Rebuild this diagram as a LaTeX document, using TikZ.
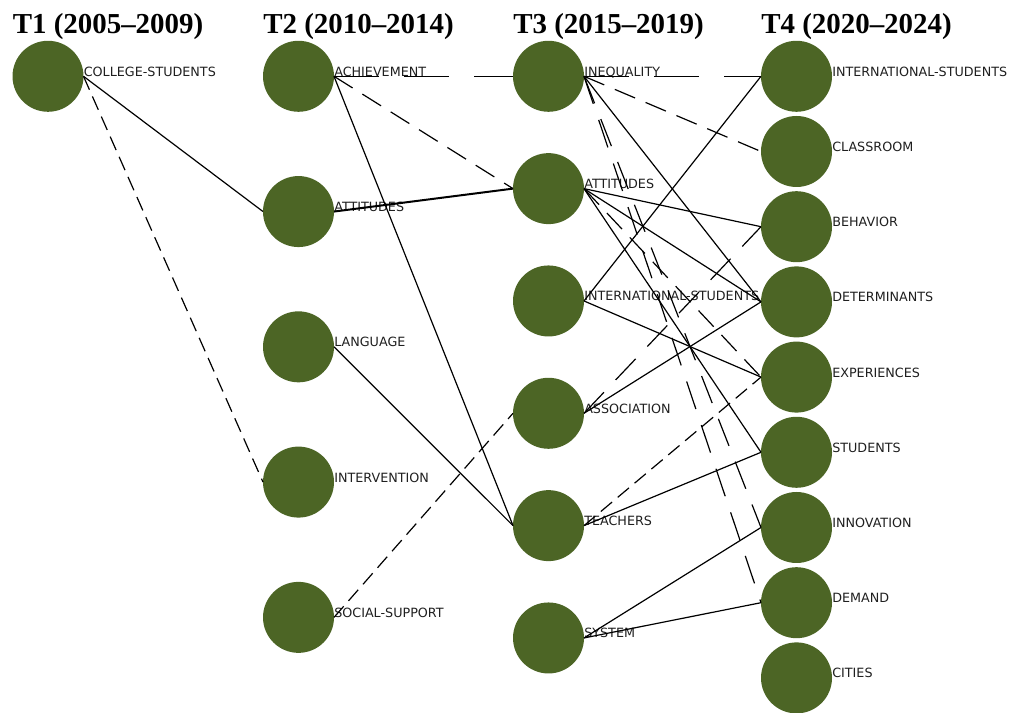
\documentclass[tikz,border=0pt]{standalone}
\usepackage{fontspec}
\setmainfont{Liberation Serif}
\newfontfamily\termfont{DejaVu Sans}
\usepackage{tikz}
\usetikzlibrary{positioning}

\definecolor{termgreen}{RGB}{76,101,37}

\tikzset{
    term/.style={circle, fill=termgreen, minimum size=53.25pt, inner sep=0pt, outer sep=0pt},
    termtext/.style={anchor=base west, inner sep=0pt, text=black!88,
        font=\termfont\fontsize{9.55pt}{11pt}\selectfont},
    period/.style={anchor=base west, inner sep=0pt,
        font=\bfseries\fontsize{21.7pt}{26pt}\selectfont},
    link/.style={line width=0.9pt},
    linkthick/.style={line width=1.5pt},
    dshort/.style={line width=0.9pt, dash pattern=on 11pt off 5.5pt},
    dmid/.style={line width=0.9pt, dash pattern=on 16.5pt off 8.6pt},
    dwide/.style={line width=0.9pt, dash pattern=on 21.75pt off 12.75pt},
    dlong/.style={line width=0.9pt, dash pattern=on 33.75pt off 18.75pt},
}

\begin{document}
\begin{tikzpicture}[x=0.75pt, y=0.75pt]

        \useasboundingbox (0,0) rectangle (1031,713);

        % T1
        \node[term] (onecollege) at (48,636.7) {};

        % T2
        \node[term] (twoachievement) at (298.5,636.7) {};
        \node[term, below=48.2pt of twoachievement] (twoattitudes) {};
        \node[term, below=48.2pt of twoattitudes] (twolanguage) {};
        \node[term, below=48.2pt of twolanguage] (twointervention) {};
        \node[term, below=48.2pt of twointervention] (twosupport) {};

        % T3
        \node[term] (threeinequality) at (548.5,636.7) {};
        \node[term, below=31pt of threeinequality] (threeattitudes) {};
        \node[term, below=31pt of threeattitudes] (threeintl) {};
        \node[term, below=31pt of threeintl] (threeassociation) {};
        \node[term, below=31pt of threeassociation] (threeteachers) {};
        \node[term, below=31pt of threeteachers] (threesystem) {};

        % T4
        \node[term] (fourintl) at (796.5,636.7) {};
        \node[term, below=3.15pt of fourintl] (fourclassroom) {};
        \node[term, below=3.15pt of fourclassroom] (fourbehavior) {};
        \node[term, below=3.15pt of fourbehavior] (fourdeterminants) {};
        \node[term, below=3.15pt of fourdeterminants] (fourexperiences) {};
        \node[term, below=3.15pt of fourexperiences] (fourstudents) {};
        \node[term, below=3.15pt of fourstudents] (fourinnovation) {};
        \node[term, below=3.15pt of fourinnovation] (fourdemand) {};
        \node[term, below=3.15pt of fourdemand] (fourcities) {};

        % headings
        \node[period] (headone) at (onecollege.west |- 0,679.7) {T1 (2005–2009)};
        \node[period] (headtwo) at (twoachievement.west |- 0,679.7) {T2 (2010–2014)};
        \node[period] (headthree) at (threeinequality.west |- 0,679.7) {T3 (2015–2019)};
        \node[period] (headfour) at (fourintl.west |- 0,679.7) {T4 (2020–2024)};

        % labels
        \node[termtext] (onecollegetext) at (onecollege.east) {COLLEGE-STUDENTS};
        \node[termtext] (twoachievementtext) at (twoachievement.east) {ACHIEVEMENT};
        \node[termtext] (twoattitudestext) at (twoattitudes.east) {ATTITUDES};
        \node[termtext] (twolanguagetext) at (twolanguage.east) {LANGUAGE};
        \node[termtext] (twointerventiontext) at (twointervention.east) {INTERVENTION};
        \node[termtext] (twosupporttext) at (twosupport.east) {SOCIAL-SUPPORT};
        \node[termtext] (threeinequalitytext) at (threeinequality.east) {INEQUALITY};
        \node[termtext] (threeattitudestext) at (threeattitudes.east) {ATTITUDES};
        \node[termtext] (threeintltext) at (threeintl.east) {INTERNATIONAL-STUDENTS};
        \node[termtext] (threeassociationtext) at (threeassociation.east) {ASSOCIATION};
        \node[termtext] (threeteacherstext) at (threeteachers.east) {TEACHERS};
        \node[termtext] (threesystemtext) at (threesystem.east) {SYSTEM};
        \node[termtext] (fourintltext) at (fourintl.east) {INTERNATIONAL-STUDENTS};
        \node[termtext] (fourclassroomtext) at (fourclassroom.east) {CLASSROOM};
        \node[termtext] (fourbehaviortext) at (fourbehavior.east) {BEHAVIOR};
        \node[termtext] (fourdeterminantstext) at (fourdeterminants.east) {DETERMINANTS};
        \node[termtext] (fourexperiencestext) at (fourexperiences.east) {EXPERIENCES};
        \node[termtext] (fourstudentstext) at (fourstudents.east) {STUDENTS};
        \node[termtext] (fourinnovationtext) at (fourinnovation.east) {INNOVATION};
        \node[termtext] (fourdemandtext) at (fourdemand.east) {DEMAND};
        \node[termtext] (fourcitiestext) at (fourcities.east) {CITIES};

        % T1 -> T2
        \draw[link] (onecollege.east) -- (twoattitudes.west);
        \draw[dshort] (onecollege.east) -- (twointervention.west);

        % T2 -> T3
        \draw[dlong] (twoachievement.east) -- (threeinequality.west);
        \draw[dmid] (twoachievement.east) -- (threeattitudes.west);
        \draw[link] (twoachievement.east) -- (threeteachers.west);
        \draw[linkthick] (twoattitudes.east) -- (threeattitudes.west);
        \draw[link] (twolanguage.east) -- (threeteachers.west);
        \draw[dshort] (twosupport.east) -- (threeassociation.west);

        % T3 -> T4
        \draw[dlong] (threeinequality.east) -- (fourintl.west);
        \draw[dmid] (threeinequality.east) -- (fourclassroom.west);
        \draw[link] (threeinequality.east) -- (fourdeterminants.west);
        \draw[dwide] (threeinequality.east) -- (fourinnovation.west);
        \draw[dwide] (threeinequality.east) -- (fourdemand.west);
        \draw[link] (threeattitudes.east) -- (fourbehavior.west);
        \draw[link] (threeattitudes.east) -- (fourdeterminants.west);
        \draw[dmid] (threeattitudes.east) -- (fourexperiences.west);
        \draw[link] (threeattitudes.east) -- (fourstudents.west);
        \draw[link] (threeintl.east) -- (fourintl.west);
        \draw[link] (threeintl.east) -- (fourexperiences.west);
        \draw[dwide] (threeassociation.east) -- (fourbehavior.west);
        \draw[link] (threeassociation.east) -- (fourdeterminants.west);
        \draw[link] (threeteachers.east) -- (fourstudents.west);
        \draw[dshort] (threeteachers.east) -- (fourexperiences.west);
        \draw[link] (threesystem.east) -- (fourinnovation.west);
        \draw[link] (threesystem.east) -- (fourdemand.west);

    \end{tikzpicture}
\end{document}
